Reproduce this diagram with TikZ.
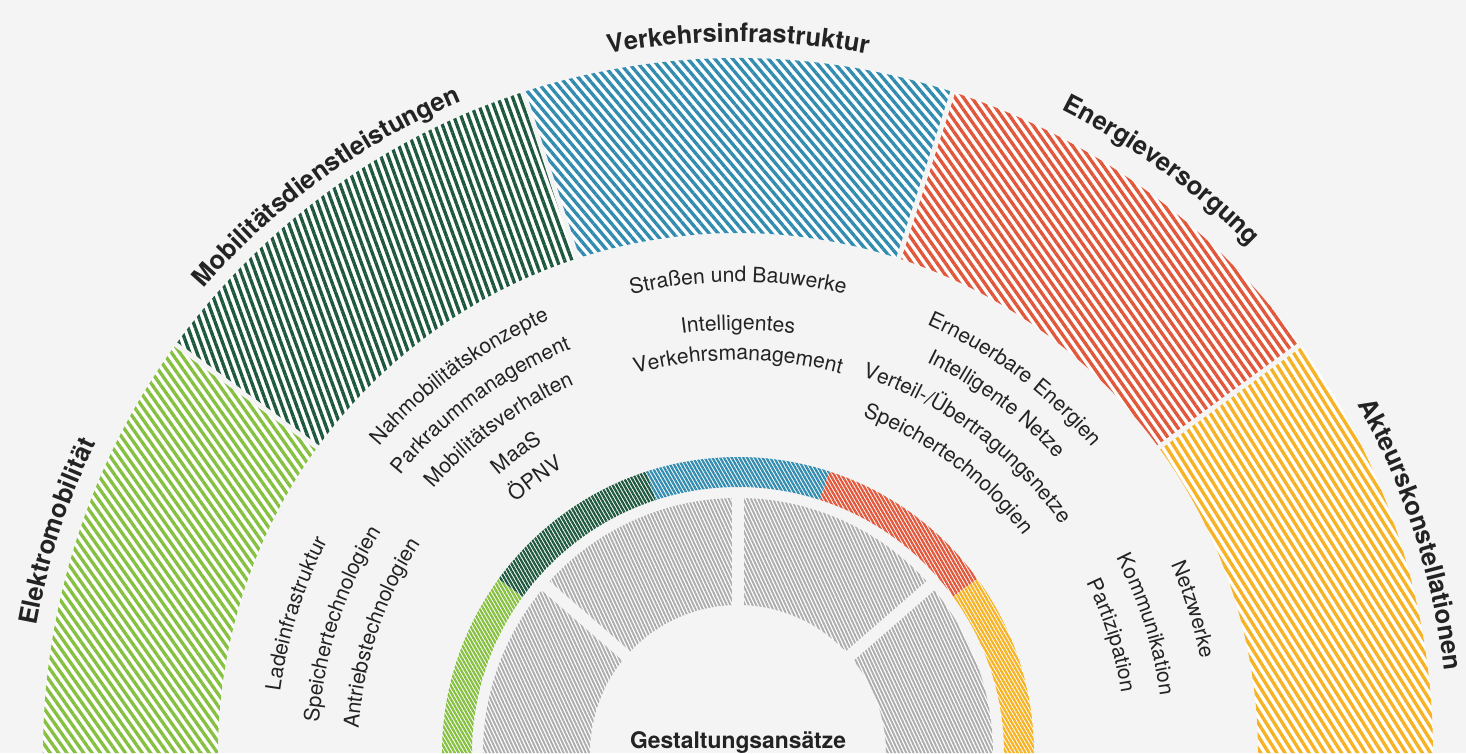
\documentclass[tikz,border=0pt]{standalone}
\usepackage{fontspec}
\setmainfont{TeX Gyre Heros}
\usetikzlibrary{decorations.text,patterns.meta}
\definecolor{bg}{RGB}{244,244,244}
\definecolor{elektro}{RGB}{134,192,64}
\definecolor{mobil}{RGB}{30,88,62}
\definecolor{verkehr}{RGB}{50,140,176}
\definecolor{energie}{RGB}{226,86,58}
\definecolor{akteur}{RGB}{246,178,34}
\definecolor{grau}{RGB}{172,172,172}
\definecolor{schrift}{RGB}{35,35,35}

\newcommand\headfont{\fontsize{14.5}{16}\selectfont\bfseries}
\newcommand\itemfont{\fontsize{12}{14}\selectfont}

% text on a clockwise arc: angle, radius, font, text
\newcommand\arctext[4]{%
  \path[decorate, decoration={text along path, text align=center, text color=schrift, text={|#3|#4}}]
    (#1+45:#2) arc[start angle=#1+45, end angle=#1-45, radius=#2];}

\begin{document}
\begin{tikzpicture}[x=0.2mm, y=0.2mm]
    \useasboundingbox[fill=bg] (-738,0) rectangle (728,753);

    % outer ring
    \foreach \s/\col/\ang in {144/elektro/-55, 108/mobil/-70, 72/verkehr/-50, 36/energie/-55, 0/akteur/-58}
        \path[preaction={fill=white}, pattern={Lines[angle=\ang, distance=3.9pt, line width=1.9pt]}, pattern color=\col]
            (\s:520) arc[start angle=\s, end angle=\s+36, radius=520] -- (\s+36:695) arc[start angle=\s+36, end angle=\s, radius=695] -- cycle;
    \foreach \s in {36,72,108,144}
        \draw[bg, line width=2.8pt] (\s:510) -- (\s:705);

    % inner ring
    \foreach \s/\col in {144/elektro, 108/mobil, 72/verkehr, 36/energie, 0/akteur}
        \path[preaction={fill=white}, pattern={Lines[angle=-60, distance=1.9pt, line width=1.3pt]}, pattern color=\col]
            (\s:266) arc[start angle=\s, end angle=\s+36, radius=266] -- (\s+36:296) arc[start angle=\s+36, end angle=\s, radius=296] -- cycle;

    % grey parts
    \foreach \s/\e in {0/41, 41/90, 90/139, 139/180}
        \path[preaction={fill=white}, pattern={Lines[angle=-65, distance=1.9pt, line width=1.1pt]}, pattern color=grau]
            (\s:148) arc[start angle=\s, end angle=\e, radius=148] -- (\e:255) arc[start angle=\e, end angle=\s, radius=255] -- cycle;
    \foreach \s in {41,90,139}
        \draw[bg, line width=6.8pt] (\s:140) -- (\s:262);

    % headings
    \arctext{162}{713}{\headfont}{Elektromobilität}
    \arctext{126}{708}{\headfont}{Mobilitätsdienstleistungen}
    \arctext{90}{711}{\headfont}{Verkehrsinfrastruktur}
    \arctext{54}{720}{\headfont}{Energieversorgung}
    \arctext{18}{711}{\headfont}{Akteurskonstellationen}

    % items
    \arctext{162.5}{462}{\itemfont}{Ladeinfrastruktur}
    \arctext{162}{420}{\itemfont}{Speichertechnologien}
    \arctext{161.5}{380}{\itemfont}{Antriebstechnologien}

    \arctext{126.5}{472}{\itemfont}{Nahmobilitätskonzepte}
    \arctext{126.5}{437}{\itemfont}{Parkraummanagement}
    \arctext{126.5}{403}{\itemfont}{Mobilitätsverhalten}
    \arctext{126.5}{367}{\itemfont}{MaaS}
    \arctext{126.5}{335}{\itemfont}{ÖPNV}

    \arctext{90}{471}{\itemfont}{Straßen und Bauwerke}
    \arctext{90}{423}{\itemfont}{Intelligentes}
    \arctext{90}{393}{\itemfont}{Verkehrsmanagement}

    \arctext{53.5}{468}{\itemfont}{Erneuerbare Energien}
    \arctext{53.5}{434}{\itemfont}{Intelligente Netze}
    \arctext{53.5}{396}{\itemfont}{Verteil-/Übertragungsnetze}
    \arctext{53.5}{359}{\itemfont}{Speichertechnologien}

    \arctext{17.5}{472}{\itemfont}{Netzwerke}
    \arctext{17.5}{426}{\itemfont}{Kommunikation}
    \arctext{17.5}{388}{\itemfont}{Partizipation}

    \node (gestaltung) [anchor=base, text=schrift, font=\fontsize{13}{15}\selectfont\bfseries] at (0,5) {Gestaltungsansätze};
\end{tikzpicture}
\end{document}
